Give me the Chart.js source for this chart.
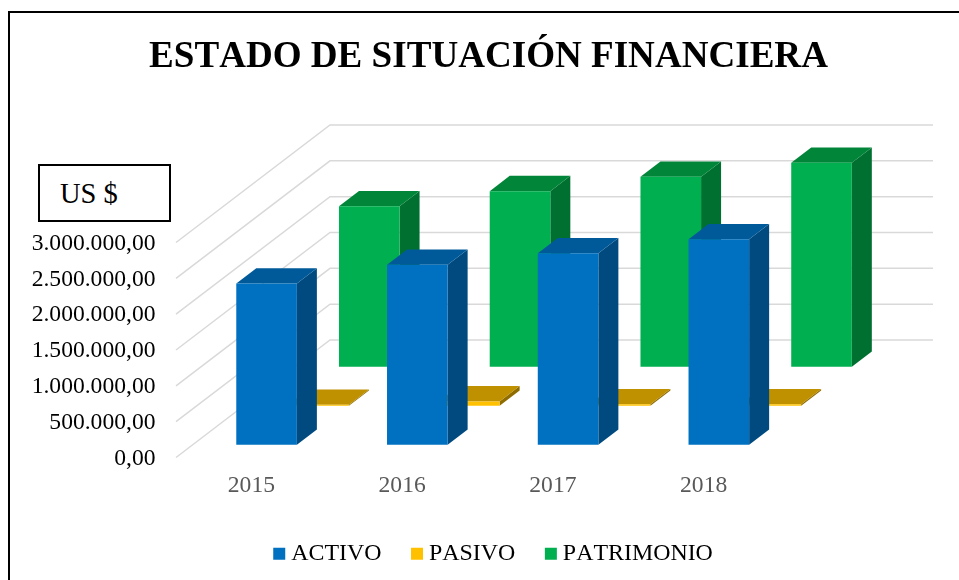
<!DOCTYPE html>
<html><head><meta charset="utf-8">
<style>
html,body{margin:0;padding:0;background:#fff;overflow:hidden;width:959px;height:580px}
#frame{position:absolute;left:8px;top:11px;width:960px;height:580px;border:2px solid #000;box-sizing:border-box}
#chart{position:absolute;left:18px;top:0}
#unit{position:absolute;left:38px;top:164px;width:133px;height:58px;box-sizing:border-box;border:2px solid #000;background:#fff;
 font:28.5px "Liberation Serif",serif;color:#000;line-height:56px;padding-left:20px}
</style>
<script src="https://cdn.jsdelivr.net/npm/chart.js@4"></script>
</head><body>
<div id="frame"></div>
<canvas id="chart" width="941" height="580"></canvas>
<div id="unit">US $</div>
<script>
const categories = ['2015','2016','2017','2018'];
const activo     = [2250000,2510000,2670000,2866000];
const pasivo     = [14000,60000,20000,20000];
const patrimonio = [2240000,2450000,2650000,2846000];
const yTicks     = [0,500000,1000000,1500000,2000000,2500000,3000000];

const SERIF = '"Liberation Serif", serif';
const SIZE = 23.6;
const WALL = {dx:154, dy:-117.5};
const BAR_DEPTH = {dx:20, dy:-15.3};

function money(v){
  const s = Math.round(v).toString().replace(/\B(?=(\d{3})+(?!\d))/g,'.');
  return s + ',00';
}

const walls = {
  id:'walls',
  beforeDraw(chart){ chart.ctx.fontKerning = 'none'; },
  beforeDatasetsDraw(chart){
    const {ctx, scales:{x,y}} = chart;
    ctx.save();
    ctx.strokeStyle = '#d9d9d9';
    ctx.lineWidth = 1.5;
    yTicks.forEach(t=>{
      const py = y.getPixelForValue(t);
      ctx.beginPath();
      ctx.moveTo(x.left, py);
      ctx.lineTo(x.left+WALL.dx, py+WALL.dy);
      ctx.lineTo(x.right+WALL.dx, py+WALL.dy);
      ctx.stroke();
    });
    ctx.restore();
  }
};

const depth = {
  id:'depth',
  beforeDatasetDraw(chart,args){
    const ds = chart.data.datasets[args.index];
    const {ctx} = chart;
    ctx.save();
    ctx.translate(ds.rowShift.dx, ds.rowShift.dy);
    args.meta.data.forEach(b=>{
      const r = b.x + b.width/2, l = b.x - b.width/2, t = b.y, bs = b.base;
      const {dx,dy} = BAR_DEPTH;
      ctx.fillStyle = ds.sideColor;
      ctx.beginPath();
      ctx.moveTo(r,t); ctx.lineTo(r+dx,t+dy); ctx.lineTo(r+dx,bs+dy); ctx.lineTo(r,bs);
      ctx.closePath(); ctx.fill();
      ctx.fillStyle = ds.topColor;
      ctx.beginPath();
      ctx.moveTo(l,t); ctx.lineTo(l+dx,t+dy); ctx.lineTo(r+dx,t+dy); ctx.lineTo(r,t);
      ctx.closePath(); ctx.fill();
    });
  },
  afterDatasetDraw(chart){ chart.ctx.restore(); }
};

const place = {
  id:'place',
  afterLayout(chart){
    const lg = chart.legend;
    const h = lg.height;
    lg.top = 552 - h/2 - 11; lg.bottom = lg.top + h;
    lg.left += 94; lg.right += 94;
    const tb = chart.titleBlock;
    tb.left = 0; tb.right = 941;
  }
};

new Chart(document.getElementById('chart'),{
  type:'bar',
  data:{
    labels:categories,
    datasets:[
      {label:'ACTIVO',data:activo,backgroundColor:'#0070C0',topColor:'#005A9A',sideColor:'#004A7F',rowShift:{dx:15.2,dy:-12.8}},
      {label:'PASIVO',data:pasivo,backgroundColor:'#FFC000',topColor:'#BF9000',sideColor:'#8F6C00',rowShift:{dx:67.2,dy:-51.8}},
      {label:'PATRIMONIO',data:patrimonio,backgroundColor:'#00B050',topColor:'#008539',sideColor:'#007030',rowShift:{dx:117.9,dy:-90.8}}
    ].map(d=>Object.assign(d,{borderWidth:0,grouped:false,barPercentage:0.402,categoryPercentage:1,clip:false,inflateAmount:0}))
  },
  plugins:[walls,depth,place],
  options:{
    responsive:false,
    animation:false,
    layout:{padding:{left:0,right:180,top:0,bottom:0}},
    scales:{
      x:{
        grid:{display:false},border:{display:false},
        ticks:{color:'#595959',font:{family:SERIF,size:SIZE},padding:6,maxRotation:0},
        afterFit(s){ s.height = 580-457.5-s.chart.legend.height; }
      },
      y:{
        min:0,max:3000000,
        grid:{display:false},border:{display:false},
        afterBuildTicks(s){ s.ticks = yTicks.map(v=>({value:v})); },
        ticks:{color:'#000',font:{family:SERIF,size:SIZE},padding:12.5,labelOffset:1,callback:v=>money(v),autoSkip:false},
        afterFit(s){ s.width = 158; }
      }
    },
    plugins:{
      tooltip:{enabled:false},
      title:{
        display:true,text:'ESTADO DE SITUACIÓN FINANCIERA',color:'#000',
        font:{family:SERIF,size:37.1,weight:'bold'},
        padding:{top:35,bottom:163}
      },
      legend:{
        position:'bottom',
        labels:{color:'#000',font:{family:SERIF,size:23.9},usePointStyle:true,pointStyle:'rect',boxWidth:0.1,boxHeight:12,padding:35.5}
      }
    }
  }
});
</script>
</body></html>
